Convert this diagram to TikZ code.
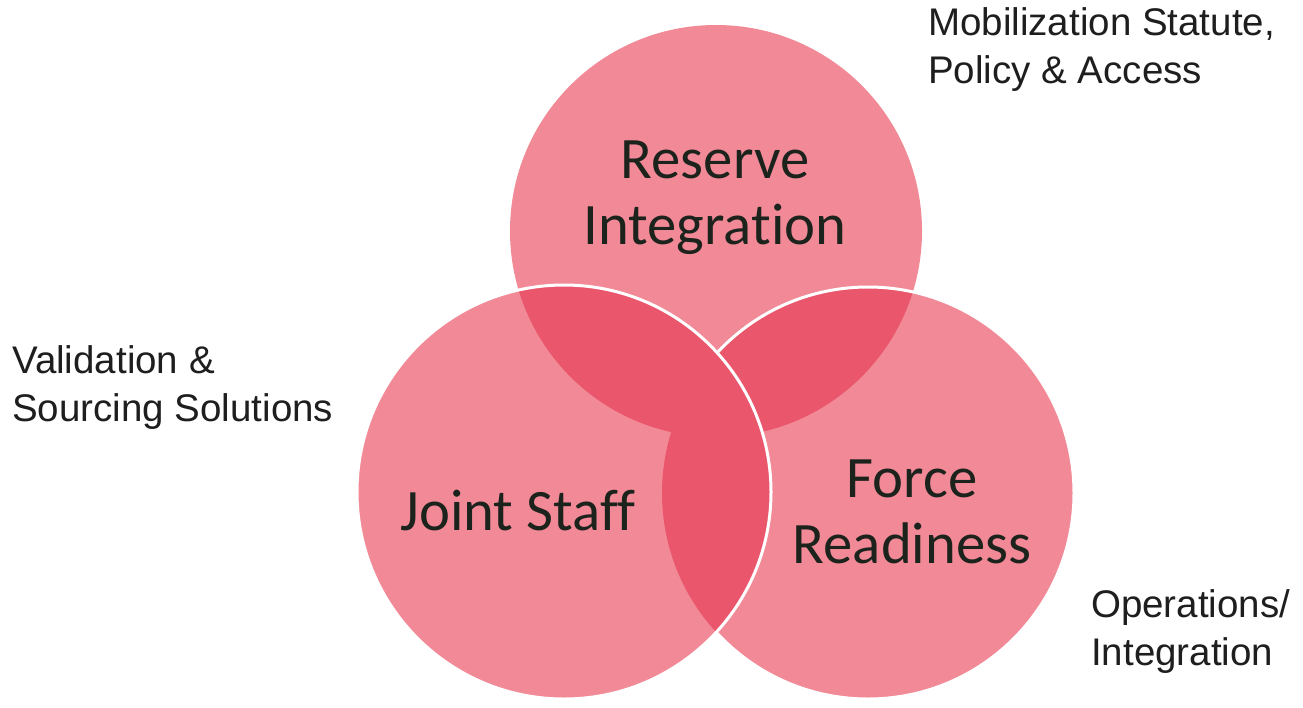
\documentclass[tikz,border=0pt]{standalone}
\usepackage{fontspec}
\setmainfont{Liberation Sans}
\newfontfamily\calfont[Ligatures=NoCommon]{Carlito}
\definecolor{singlecol}{RGB}{242,137,150}
\definecolor{overlapcol}{RGB}{234,86,108}
\definecolor{intxt}{RGB}{28,34,28}
\definecolor{outtxt}{RGB}{30,30,30}
\begin{document}
\begin{tikzpicture}[x=1pt,y=-1pt,
  outline/.style={draw=white,line width=3pt},
  intext/.style={inner sep=0pt,anchor=base,text=intxt,font=\calfont\fontsize{58.7}{66}\selectfont},
  outtext/.style={inner sep=0pt,anchor=base west,text=outtxt,font=\fontsize{38.5}{48}\selectfont}]
\useasboundingbox (0,0) rectangle (1303,707);
\fill[white] (0,0) rectangle (1303,707);
\coordinate (cT) at (716,231);
\coordinate (cL) at (564,492);
\coordinate (cR) at (868,493);
% single fills
\fill[singlecol] (cT) circle[radius=206pt];
\fill[singlecol] (cR) circle[radius=206pt];
\fill[singlecol] (cL) circle[radius=207pt];
% overlaps
\begin{scope}
  \clip (cT) circle[radius=206pt];
  \fill[overlapcol] (cL) circle[radius=207pt];
  \fill[overlapcol] (cR) circle[radius=206pt];
\end{scope}
\begin{scope}
  \clip (cL) circle[radius=207pt];
  \fill[overlapcol] (cR) circle[radius=206pt];
\end{scope}
% outlines
\begin{scope}[even odd rule]
  \clip (0,0) rectangle (1303,707) (cL) circle[radius=207pt];
  \draw[outline] (cR) circle[radius=206pt];
\end{scope}
\draw[outline] (cL) circle[radius=207pt];
% circle labels
\node[intext] (reserve) at (715,178) {\begin{tabular}[t]{@{}c@{}}Reserve\\Integration\end{tabular}};
\node[intext] (joint) at (518,530) {Joint Staff};
\node[intext] (force) at (912,497) {\begin{tabular}[t]{@{}c@{}}Force\\Readiness\end{tabular}};
% outer labels
\node[outtext] (mob) at (928,35) {\begin{tabular}[t]{@{}l@{}}Mobilization Statute,\\Policy \& Access\end{tabular}};
\node[outtext] (val) at (12,373) {\begin{tabular}[t]{@{}l@{}}Validation \&\\Sourcing Solutions\end{tabular}};
\node[outtext] (ops) at (1091,617) {\begin{tabular}[t]{@{}l@{}}Operations/\\Integration\end{tabular}};
\end{tikzpicture}
\end{document}
